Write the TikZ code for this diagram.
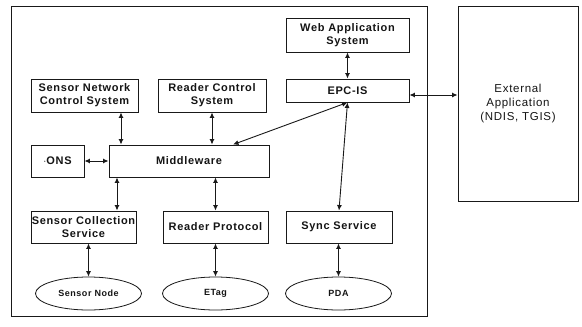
\documentclass[tikz,border=0pt]{standalone}
\usepackage{fontspec}
\setmainfont{Liberation Sans}[LetterSpace=6]
\usepackage{tikz}
\usetikzlibrary{positioning,arrows.meta,shapes.geometric}
\definecolor{colortext} {RGB}{20 ,20 ,20 }
\definecolor{colorline} {RGB}{25 ,25 ,25 }

\begin{document}
\begin{tikzpicture}[
    x=1pt, y=-1pt,
    >={Latex[length=5.5pt,width=5pt]},
    font={\fontsize{11}{13}\selectfont\bfseries},
    base/.style={text=colortext,draw=colorline,line width=0.9pt,inner sep=0pt,align=center,rectangle},
    frame/.style={draw=colorline,line width=0.9pt,inner sep=0pt,rectangle},
    device/.style={text=colortext,draw=colorline,line width=0.8pt,ellipse,inner sep=0pt,
                   minimum width=106pt,minimum height=33pt,font={\fontsize{9}{11}\selectfont\bfseries}},
    link/.style={<->,line width=0.9pt,draw=colorline},
]

    \useasboundingbox (0,0) rectangle (582,327);

    % Frames
    \node[frame,minimum width=416pt,minimum height=310pt] (system) at (219,161) {};
    \node[base,font={\fontsize{11.5}{14}\selectfont\mdseries},minimum width=120pt,minimum height=195pt]
        (extapp) at (518,103.5) {External\\Application\\(NDIS, TGIS)};

    % Upper row
    \node[base,minimum width=123pt,minimum height=34pt] (webapp) at (347.5,35)   {Web Application\\System};
    \node[base,minimum width=123pt,minimum height=23pt] (epcis)  at (347.5,90.5) {EPC-IS};
    \node[base,minimum width=107pt,minimum height=33pt] (sncs)   at (84.5,95.5)  {Sensor Network\\Control System};
    \node[base,minimum width=108pt,minimum height=33pt] (rcs)    at (212,95.5)   {Reader Control\\System};

    % Middle row
    \node[base,minimum width=53pt,minimum height=32pt]  (ons)    at (57.5,161)   {$\cdot$ONS};
    \node[base,minimum width=160pt,minimum height=32pt] (mw)     at (189,161)    {Middleware};

    % Lower row
    \node[base,minimum width=105pt,minimum height=32pt] (scs)    at (83.5,227)   {Sensor Collection\\Service};
    \node[base,minimum width=105pt,minimum height=32pt] (rp)     at (215.5,227)  {Reader Protocol};
    \node[base,minimum width=106pt,minimum height=32pt] (sync)   at (339,227)    {Sync Service};

    % Devices
    \node[device] (snode) at (88.5,293.5)  {Sensor Node};
    \node[device] (etag)  at (215.5,293.5) {ETag};
    \node[device] (pda)   at (338.5,293.5) {PDA};

    % Arrows
    \draw[link] ([xshift=36.5pt]sncs.south) -- ([xshift=-68pt]mw.north);
    \draw[link] (rcs.south) -- (rcs.south |- mw.north);
    \draw[link] (ons.east) -- (mw.west);
    \draw[link] (webapp.south) -- (epcis.north);
    \draw[link] ([yshift=-4.5pt]epcis.east) -- ([yshift=8.5pt]extapp.west);
    \draw[link] ([xshift=44pt]mw.north) -- (epcis.south);
    \draw[link] (sync.north) -- (epcis.south);
    \draw[link] ([xshift=-72pt]mw.south) -- ([xshift=33.5pt]scs.north);
    \draw[link] (rp.north) -- (rp.north |- mw.south);
    \draw[link] (snode.north) -- (snode.north |- scs.south);
    \draw[link] (etag.north) -- (etag.north |- rp.south);
    \draw[link] (pda.north) -- (pda.north |- sync.south);

\end{tikzpicture}
\end{document}
